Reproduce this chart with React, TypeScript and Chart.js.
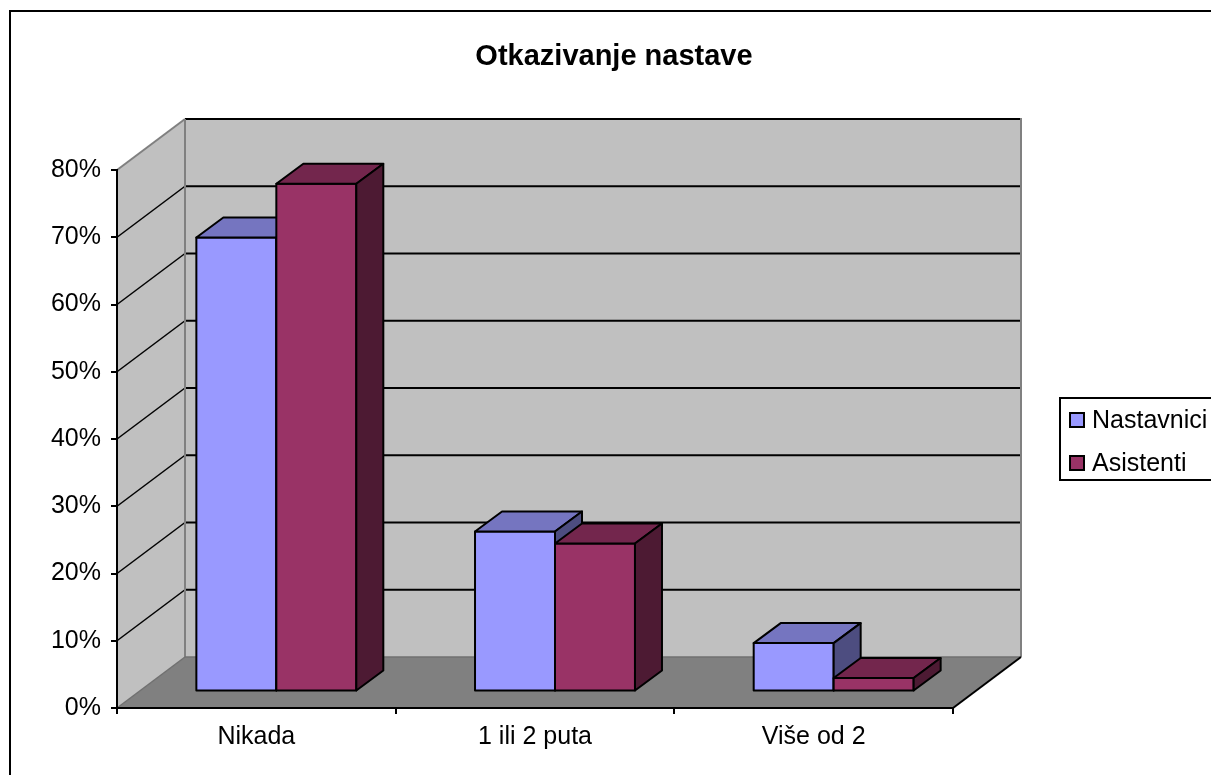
import React, { useEffect, useRef } from 'react';
import { Chart, registerables } from 'chart.js';

Chart.register(...registerables);

// ---- data ----
const TITLE = 'Otkazivanje nastave';
const categories = ['Nikada', '1 ili 2 puta', 'Više od 2'];
const seriesNames = ['Nastavnici', 'Asistenti'];
const nastavnici = [67.5, 23.8, 7.2];
const asistenti = [75.5, 22.0, 2.0];
const yTickValues = [0, 10, 20, 30, 40, 50, 60, 70, 80];
const Y_MAX = 80;
const Y_STEP = 10;

// ---- style ----
const FONT = '"Liberation Sans", Arial, Helvetica, sans-serif';
const W = 1211;
const H = 775;
const WALL_DX = 68;
const WALL_DY = 51;
const BAR_SHIFT_X = 20;
const BAR_SHIFT_Y = 16.5;
const BAR_DX = 27;
const BAR_DY = 20;
const FRONT = ['#9999FF', '#993366'];
const TOP = ['#7575C0', '#73264D'];
const SIDE = ['#4D4D80', '#4D1A33'];

function poly(ctx: CanvasRenderingContext2D, pts: number[][]) {
  ctx.beginPath();
  ctx.moveTo(pts[0][0], pts[0][1]);
  for (let i = 1; i < pts.length; i++) ctx.lineTo(pts[i][0], pts[i][1]);
  ctx.closePath();
}

function line(ctx: CanvasRenderingContext2D, x1: number, y1: number, x2: number, y2: number, color: string, w: number) {
  ctx.beginPath();
  ctx.moveTo(x1, y1);
  ctx.lineTo(x2, y2);
  ctx.strokeStyle = color;
  ctx.lineWidth = w;
  ctx.stroke();
}

const wallsPlugin = {
  id: 'walls3d',
  beforeDraw(chart: any) {
    const { ctx, chartArea: a, scales } = chart;
    const ys = scales.y;
    const x0 = a.left;
    const x1 = a.right;
    const yb = ys.getPixelForValue(0);
    const yt = ys.getPixelForValue(Y_MAX);
    ctx.save();
    ctx.fillStyle = '#FFFFFF';
    ctx.fillRect(0, 0, W, H);
    // outer border
    ctx.strokeStyle = '#000';
    ctx.lineWidth = 2;
    ctx.strokeRect(10, 11, W + 20, H + 20);
    // title
    ctx.fillStyle = '#000';
    ctx.font = `bold 29px ${FONT}`;
    ctx.textAlign = 'center';
    ctx.textBaseline = 'alphabetic';
    ctx.fillText(TITLE, 614, 65);
    // left wall
    ctx.fillStyle = '#C0C0C0';
    poly(ctx, [[x0, yt], [x0 + WALL_DX, yt - WALL_DY], [x0 + WALL_DX, yb - WALL_DY], [x0, yb]]);
    ctx.fill();
    // back wall
    ctx.fillRect(x0 + WALL_DX, yt - WALL_DY, x1 - x0, yb - yt);
    // floor
    ctx.fillStyle = '#808080';
    poly(ctx, [[x0, yb], [x1, yb], [x1 + WALL_DX, yb - WALL_DY], [x0 + WALL_DX, yb - WALL_DY]]);
    ctx.fill();
    // gridlines
    yTickValues.forEach((v) => {
      if (v === 0) return;
      const py = ys.getPixelForValue(v);
      line(ctx, x0 + WALL_DX, py - WALL_DY, x1 + WALL_DX, py - WALL_DY, '#000', 2);
      if (v < Y_MAX) line(ctx, x0, py, x0 + WALL_DX, py - WALL_DY, '#000', 1.5);
    });
    // edges
    line(ctx, x0, yt, x0 + WALL_DX, yt - WALL_DY, '#808080', 2);
    line(ctx, x0 + WALL_DX, yt - WALL_DY, x0 + WALL_DX, yb - WALL_DY, '#808080', 2);
    line(ctx, x1 + WALL_DX, yt - WALL_DY - 1, x1 + WALL_DX, yb - WALL_DY, '#808080', 2);
    line(ctx, x0 + WALL_DX, yb - WALL_DY, x1 + WALL_DX, yb - WALL_DY, '#707070', 1.5);
    line(ctx, x0, yb, x0 + WALL_DX, yb - WALL_DY, '#707070', 1.5);
    line(ctx, x1, yb, x1 + WALL_DX, yb - WALL_DY, '#000', 2);
    ctx.restore();
  },
  beforeDatasetsDraw(chart: any) {
    chart.ctx.save();
    chart.ctx.translate(BAR_SHIFT_X, -BAR_SHIFT_Y);
  },
  afterDatasetsDraw(chart: any) {
    const ctx = chart.ctx;
    ctx.lineWidth = 2;
    ctx.lineJoin = 'round';
    ctx.strokeStyle = '#000';
    const metas = seriesNames.map((_, d) => chart.getDatasetMeta(d));
    categories.forEach((_, ci) => {
      metas.forEach((meta: any, di: number) => {
        const el = meta.data[ci];
        if (!el) return;
        const p = el.getProps(['x', 'y', 'base', 'width'], true);
        const L = p.x - p.width / 2;
        const R = p.x + p.width / 2;
        const T = p.y;
        const B = p.base;
        // front face
        ctx.fillStyle = FRONT[di];
        ctx.fillRect(L, T, R - L, B - T);
        ctx.strokeRect(L, T, R - L, B - T);
        // top face
        ctx.fillStyle = TOP[di];
        poly(ctx, [[L, T], [R, T], [R + BAR_DX, T - BAR_DY], [L + BAR_DX, T - BAR_DY]]);
        ctx.fill();
        ctx.stroke();
        // side face
        ctx.fillStyle = SIDE[di];
        poly(ctx, [[R, T], [R + BAR_DX, T - BAR_DY], [R + BAR_DX, B - BAR_DY], [R, B]]);
        ctx.fill();
        ctx.stroke();
      });
    });
    ctx.restore();
  },
  afterDraw(chart: any) {
    const ctx = chart.ctx;
    ctx.save();
    ctx.strokeStyle = '#000';
    ctx.lineWidth = 2;
    ctx.strokeRect(1060, 398, 200, 82);
    ctx.font = `25px ${FONT}`;
    ctx.textAlign = 'left';
    ctx.textBaseline = 'middle';
    const rows = [420, 463];
    seriesNames.forEach((name, i) => {
      ctx.fillStyle = FRONT[i];
      ctx.fillRect(1070, rows[i] - 7, 14, 14);
      ctx.lineWidth = 2;
      ctx.strokeRect(1070, rows[i] - 7, 14, 14);
      ctx.fillStyle = '#000';
      ctx.fillText(name, 1092, rows[i] + 1);
    });
    ctx.restore();
  },
};

export default function App() {
  const ref = useRef<HTMLCanvasElement | null>(null);
  useEffect(() => {
    if (!ref.current) return;
    const seriesData = [nastavnici, asistenti];
    const chart = new Chart(ref.current, {
      type: 'bar',
      data: {
        labels: categories,
        datasets: seriesNames.map((name, i) => ({
          label: name,
          data: seriesData[i],
          backgroundColor: FRONT[i],
          borderColor: '#000',
          borderWidth: 0,
          borderSkipped: false,
          categoryPercentage: 0.574,
          barPercentage: 1,
          clip: false as any,
        })),
      },
      options: {
        responsive: false,
        animation: false,
        devicePixelRatio: 1,
        layout: { padding: { left: 0, top: 170, right: 258, bottom: 0 } },
        plugins: {
          legend: { display: false },
          title: { display: false },
          tooltip: { enabled: false },
        },
        scales: {
          x: {
            grid: {
              display: true,
              drawOnChartArea: false,
              drawTicks: true,
              tickLength: 6,
              color: '#000',
              lineWidth: 2,
              offset: true,
            },
            border: { display: true, color: '#000', width: 2 },
            ticks: {
              font: { family: FONT, size: 25 },
              color: '#000',
              padding: 8,
              maxRotation: 0,
              autoSkip: false,
            },
            afterFit: (s: any) => {
              s.height = 67;
            },
          },
          y: {
            min: 0,
            max: Y_MAX,
            grid: {
              display: true,
              drawOnChartArea: false,
              drawTicks: true,
              tickLength: 6,
              color: '#000',
              lineWidth: 2,
            },
            border: { display: true, color: '#000', width: 2 },
            ticks: {
              stepSize: Y_STEP,
              font: { family: FONT, size: 25 },
              color: '#000',
              padding: 10,
              callback: (v: any) => `${v}%`,
            },
            afterFit: (s: any) => {
              s.width = 117;
            },
          },
        },
      },
      plugins: [wallsPlugin],
    });
    return () => chart.destroy();
  }, []);
  return (
    <div style={{ position: 'fixed', left: 0, top: 0, width: W, height: H, background: '#fff' }}>
      <canvas ref={ref} width={W} height={H} style={{ display: 'block', width: W, height: H }} />
    </div>
  );
}
